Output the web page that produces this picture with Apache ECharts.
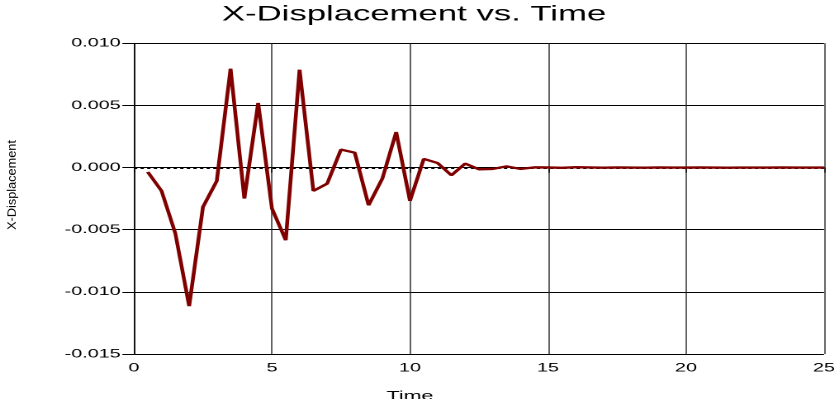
<!DOCTYPE html>
<html>
<head>
<meta charset="utf-8">
<script src="https://cdn.jsdelivr.net/npm/echarts@6/dist/echarts.min.js"></script>
<style>
html,body{margin:0;padding:0;background:#fff;overflow:hidden;}
#chart{width:508px;height:399px;transform:scaleX(1.6516);transform-origin:0 0;}
</style>
</head>
<body>
<div id="chart"></div>
<script>
var titleText = 'X-Displacement vs. Time';
var xName = 'Time';
var yName = 'X-Displacement';
var times = [0.5,1.0,1.5,2.0,2.5,3.0,3.5,4.0,4.5,5.0,5.5,6.0,6.5,7.0,7.5,8.0,8.5,9.0,9.5,10.0,
  10.5,11.0,11.5,12.0,12.5,13.0,13.5,14.0,14.5,15.0,15.5,16.0,16.5,17.0,17.5,18.0,18.5,19.0,19.5,20.0,
  20.5,21.0,21.5,22.0,22.5,23.0,23.5,24.0,24.5,25.0];
var xDisp = [-0.00035,-0.00188,-0.0053,-0.01115,-0.00317,-0.00108,0.00796,-0.00249,0.0052,-0.0033,
  -0.00584,0.00788,-0.00188,-0.00129,0.00145,0.0012,-0.00303,-0.00088,0.00286,-0.00268,
  0.0007,0.00037,-0.00062,0.00032,-0.00014,-0.00011,0.0001,-0.00011,0.00002,0.00001,
  -0.00002,0.00003,0.00001,-0.00001,0.00001,0,-0.00001,0.00001,0,0,
  0.00001,0,-0.00001,0,0,0,0.00001,0,0,0];
var xTicks = {min:0, max:25, interval:5};
var yTicks = {min:-0.015, max:0.010, interval:0.005};

var chart = echarts.init(document.getElementById('chart'), null, {renderer:'canvas', devicePixelRatio:2});
var font = 'Liberation Sans, Arial, sans-serif';
chart.setOption({
  animation:false,
  backgroundColor:'#fff',
  grid:{left:81.1, right:9.1, top:43.3, bottom:45, containLabel:false, outerBoundsMode:'none'},
  graphic:[
    {type:'text', x:250.7, y:4, style:{text:titleText, font:'21px '+font, fill:'#000', textAlign:'center', textVerticalAlign:'top'}},
    {type:'text', x:248.2, y:390, style:{text:xName, font:'13px '+font, fill:'#000', textAlign:'center', textVerticalAlign:'top'}},
    {type:'text', x:7.3, y:185, rotation:Math.PI/2, scaleX:1.06, scaleY:0.62,
     style:{text:yName, font:'12px '+font, fill:'#000', textAlign:'center', textVerticalAlign:'middle'}}
  ],
  xAxis:{
    type:'value', min:xTicks.min, max:xTicks.max, interval:xTicks.interval,
    axisLine:{show:true, lineStyle:{color:'#000', width:1}},
    axisTick:{show:true, inside:false, length:5, lineStyle:{color:'#000', width:0.7}},
    axisLabel:{color:'#000', fontSize:12, fontFamily:font, margin:8},
    splitLine:{show:true, lineStyle:{color:'#222', width:0.7}}
  },
  yAxis:{
    type:'value', min:yTicks.min, max:yTicks.max, interval:yTicks.interval,
    axisLine:{show:true, lineStyle:{color:'#000', width:0.8}},
    axisTick:{show:true, inside:false, length:7, lineStyle:{color:'#000'}},
    axisLabel:{color:'#000', fontSize:12, fontFamily:font, margin:8,
      formatter:function(v){return v.toFixed(3);}},
    splitLine:{show:true, lineStyle:{color:'#000', width:1}}
  },
  series:[{
    type:'line',
    data:times.map(function(t,i){return [t, xDisp[i]];}),
    symbol:'none',
    lineStyle:{color:'#800000', width:2.3},
    markLine:{silent:true, symbol:'none', label:{show:false},
      lineStyle:{color:'#000', type:'dotted', width:2},
      data:[{yAxis:0}], z:1}
  }]
});
</script>
</body>
</html>
